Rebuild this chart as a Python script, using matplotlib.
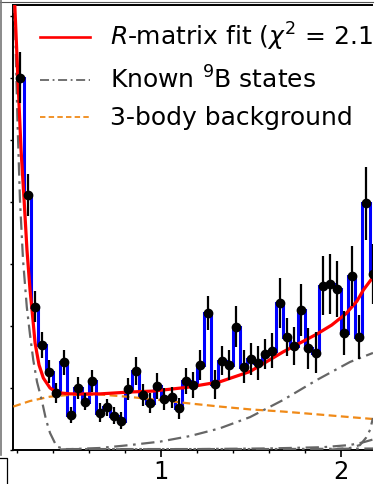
import numpy as np
import matplotlib
matplotlib.use('Agg')
import matplotlib.pyplot as plt
from matplotlib.lines import Line2D
from matplotlib.patches import Rectangle

#histogram bins (bin centres, width 0.04)
bin_centres = [0.22, 0.26, 0.30, 0.34, 0.38, 0.42, 0.46, 0.50, 0.54, 0.58,
               0.62, 0.66, 0.70, 0.74, 0.78, 0.82, 0.86, 0.90, 0.94, 0.98,
               1.02, 1.06, 1.10, 1.14, 1.18, 1.22, 1.26, 1.30, 1.34, 1.38,
               1.42, 1.46, 1.50, 1.54, 1.58, 1.62, 1.66, 1.70, 1.74, 1.78,
               1.82, 1.86, 1.90, 1.94, 1.98, 2.02, 2.06, 2.10, 2.14, 2.18]
counts = [120.1, 82.3, 46.2, 33.9, 25.3, 18.3, 28.3, 11.3, 19.9, 15.6,
          22.3, 12.0, 13.8, 11.1, 9.5, 19.6, 25.5, 17.7, 15.1, 20.6,
          16.5, 17.0, 13.5, 22.2, 21.0, 27.4, 44.1, 21.2, 28.8, 27.3,
          39.8, 26.9, 29.3, 28.0, 30.9, 32.0, 47.3, 36.5, 33.5, 45.2,
          32.8, 31.4, 53.0, 53.5, 51.9, 37.8, 56.1, 36.5, 79.6, 56.7]
errors = [8.1, 6.8, 5.0, 4.2, 3.6, 3.3, 4.0, 2.7, 3.5, 2.7,
          3.5, 3.0, 2.7, 2.7, 2.7, 3.6, 4.6, 3.5, 3.2, 4.3,
          3.6, 3.4, 3.4, 4.3, 4.3, 4.8, 5.4, 4.7, 4.6, 4.8,
          6.5, 5.4, 5.1, 5.4, 4.8, 5.6, 8.1, 6.1, 6.2, 8.3,
          6.7, 6.5, 9.5, 9.6, 9.0, 7.1, 9.6, 7.0, 11.8, 9.7]
bin_width = 0.04

#R-matrix fit
fit_x = [0.188, 0.207, 0.224, 0.241, 0.257, 0.274, 0.285, 0.302, 0.324, 0.348,
         0.385, 0.424, 0.496, 0.663, 0.830, 0.957, 1.146, 1.329, 1.496, 1.679,
         1.868, 1.950, 2.030, 2.090, 2.126, 2.181]
fit_y = [145.2, 119.4, 96.8, 80.6, 64.5, 51.6, 45.2, 34.5, 27.4, 23.2,
         20.0, 18.5, 18.1, 18.1, 18.7, 19.0, 20.2, 22.0, 25.3, 31.6,
         37.4, 40.3, 44.0, 48.0, 51.6, 55.9]

#known 9B states (one curve per state)
gs_x = [0.185, 0.193, 0.204, 0.218, 0.235, 0.256, 0.274, 0.292, 0.313, 0.339,
        0.363, 0.385, 0.422, 0.468, 0.8, 1.2, 1.6, 2.0, 2.235]
gs_y = [145.2, 132.3, 106.5, 80.6, 61.3, 46.1, 37.1, 29.0, 21.9, 16.1,
        9.7, 5.5, 1.1, 0.3, 0.3, 0.3, 0.3, 0.4, 0.5]
broad_x = [0.441, 0.663, 0.830, 0.996, 1.163, 1.329, 1.496, 1.679, 1.868, 2.052, 2.179]
broad_y = [0.16, 0.65, 1.6, 2.7, 4.5, 7.0, 10.6, 16.1, 22.6, 28.4, 31.3]
narrow_x = [1.941, 2.052, 2.107, 2.140, 2.163, 2.179]
narrow_y = [0.1, 0.65, 1.6, 3.9, 6.5, 10.3]
high_x = [0.60, 1.20, 1.60, 1.90, 2.05, 2.12, 2.18]
high_y = [0.2, 0.3, 0.5, 0.9, 1.6, 2.4, 3.4]

#3-body background
bkg_x = [0.181, 0.274, 0.385, 0.478, 0.663, 0.830, 0.996, 1.163, 1.329, 1.496,
         1.679, 1.868, 2.052, 2.179]
bkg_y = [14.0, 15.8, 17.2, 17.7, 17.9, 17.1, 16.1, 15.0, 14.0, 13.1,
         12.4, 11.5, 10.6, 10.0]

W, H = 383, 484
fig = plt.figure(figsize=(W/100., H/100.), dpi=100)
ax = fig.add_axes([13.3/W, 1-450./H, 1-13.3/W, 445./H])

gray = '#666666'
orange = '#f08a18'
dashdot = (0, (6, 2.5, 1.2, 2.5))

edges = np.append(np.array(bin_centres) - bin_width/2., bin_centres[-1] + bin_width/2.)
ax.stairs(counts, edges, baseline=None, color='blue', lw=2.2, zorder=2)
ax.errorbar(bin_centres, counts, yerr=errors, fmt='o', color='black', ms=6,
            elinewidth=1.6, capsize=0, zorder=4)

ax.plot(bkg_x, bkg_y, color=orange, ls=(0, (3.5, 2)), lw=1.6, zorder=3)
for xs, ys in [(gs_x, gs_y), (broad_x, broad_y), (narrow_x, narrow_y), (high_x, high_y)]:
    ax.plot(xs, ys, color=gray, ls=dashdot, lw=1.6, zorder=3)
ax.plot(fit_x, fit_y, color='red', lw=2.3, zorder=3.5)

ax.set_xlim(0.181, 0.181 + (W - 13.3)/180.)
ax.set_ylim(0, 143.5)
ax.set_xticks([1, 2])
ax.set_xticks(np.arange(0.2, 2.21, 0.2), minor=True)
ax.set_yticks(np.arange(0, 141, 20))
ax.tick_params(axis='x', which='major', length=4.7, width=1.2, labelsize=17.5, pad=2.5)
ax.tick_params(axis='x', which='minor', length=2.5, width=1.0)
ax.tick_params(axis='y', length=2, width=1.0, labelleft=False)
for s in ax.spines.values():
    s.set_linewidth(1.4)

handles = [Line2D([], [], color='red', lw=1.9),
           Line2D([], [], color=gray, ls=(0, (5, 2, 1, 2)), lw=1.3),
           Line2D([], [], color=orange, ls=(0, (3, 1.8)), lw=1.3)]
labels = [r'$R$-matrix fit ($\chi^2$ = 2.1',
          r'Known $^9$B states',
          '3-body background']
ax.legend(handles, labels, loc='upper left', bbox_to_anchor=(40./W, 1-21./H),
          bbox_transform=fig.transFigure, frameon=False, fontsize=18,
          borderpad=0, borderaxespad=0, labelspacing=0.52, handlelength=2.0,
          handletextpad=0.8)

#edges of the neighbouring panels and the blank strip on the right
fig.add_artist(Rectangle((373./W, 0), 1, 1, transform=fig.transFigure,
                         facecolor='white', edgecolor='none', zorder=10))
fig.add_artist(Line2D([0, 373./W], [1-1.7/H, 1-1.7/H], color='#555555', lw=0.8, zorder=11))
fig.add_artist(Line2D([1.2/W, 1.2/W], [1-455./H, 1], color='#777777', lw=1.2, zorder=11))
fig.add_artist(Line2D([0, 7./W, 7./W], [1-458./H, 1-458./H, 0], color='black', lw=0.9, zorder=11))

fig.savefig('out.png', dpi=100)
